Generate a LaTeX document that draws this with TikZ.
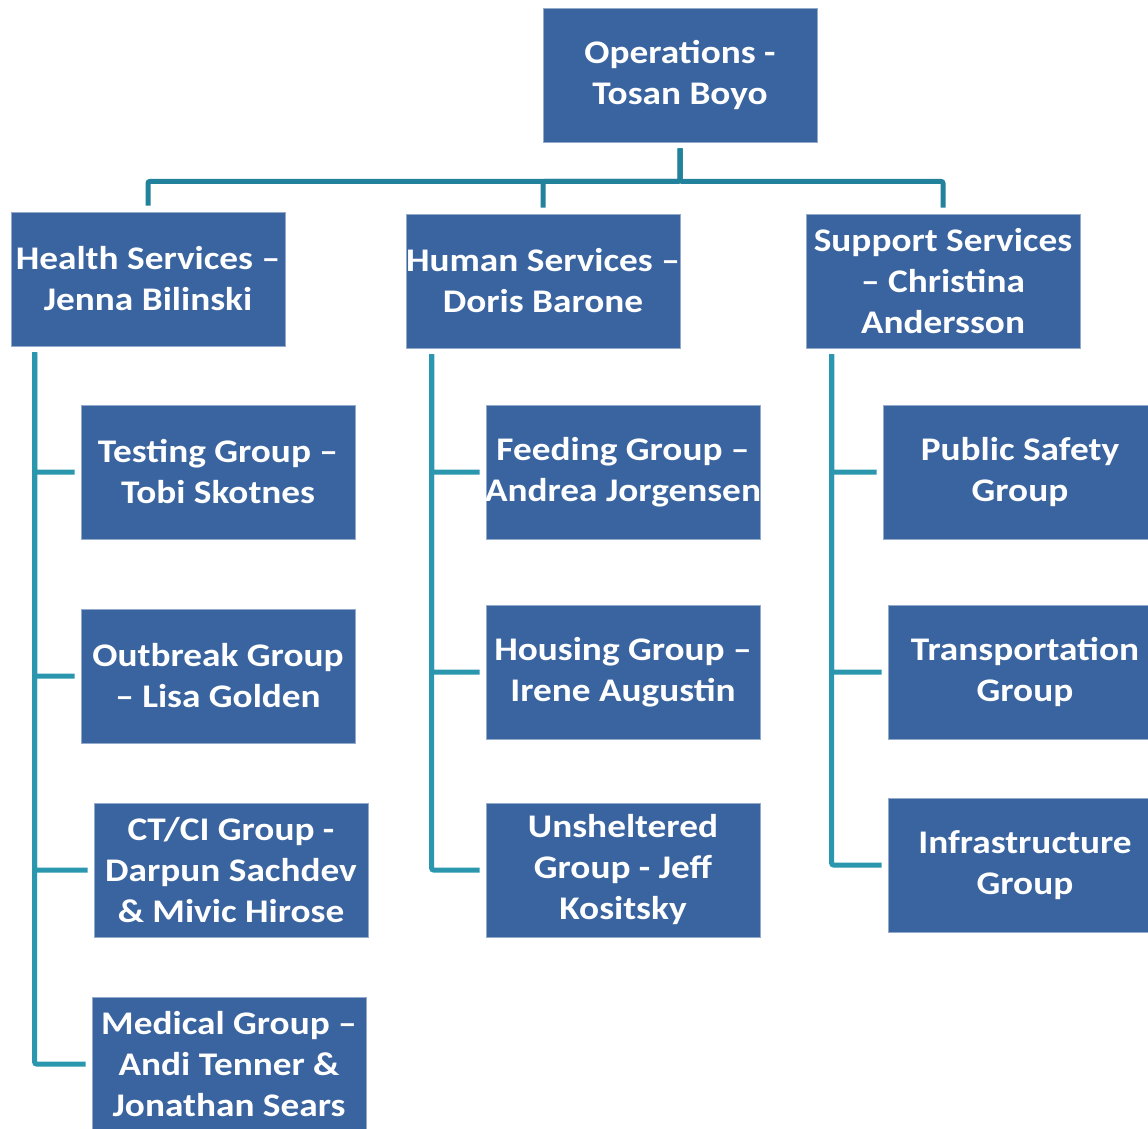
\documentclass[tikz,border=0pt]{standalone}
\usepackage{fontspec}
\setmainfont{Carlito}[FakeStretch=1.13]
\definecolor{boxblue}{HTML}{3A64A0}
\definecolor{tealdark}{HTML}{23829B}
\definecolor{teallight}{HTML}{2B97AE}
\newcommand{\snug}[1]{\makebox[268pt]{#1}}
\tikzset{
	unit/.style={fill=boxblue, draw=boxblue!55!white, line width=0.8pt, minimum width=274pt, minimum height=134pt, inner sep=0pt, align=center, text=white, font=\fontsize{33}{41}\selectfont\bfseries},
	toplink/.style={draw=tealdark, line width=5pt, shorten <=6pt, shorten >=6pt, rounded corners=2pt},
	sidelink/.style={draw=teallight, line width=5pt, shorten >=6pt, rounded corners=2pt}
}
\begin{document}
\begin{tikzpicture}[x=1pt, y=-1pt]
		\useasboundingbox ( 0, 0 ) rectangle ( 1148, 1128 );
		\clip ( 0, 0 ) rectangle ( 1148, 1128 );
		\fill [white] ( 0, 0 ) rectangle ( 1148, 1128 );

		% head
		\node [unit] (ops) at ( 680, 75 ) {Operations -\\Tosan Boyo};

		% branches
		\node [unit] (health)  at ( 148, 279 ) {\snug{Health Services –}\\Jenna Bilinski};
		\node [unit] (human)   at ( 543, 281 ) {\snug{Human Services –}\\Doris Barone};
		\node [unit] (support) at ( 943, 281 ) {Support Services\\– Christina\\Andersson};

		% health groups
		\node [unit] (testing)  at ( 218, 472 )  {Testing Group –\\Tobi Skotnes};
		\node [unit] (outbreak) at ( 218, 676 )  {Outbreak Group\\– Lisa Golden};
		\node [unit] (ctci)     at ( 231, 870 )  {CT/CI Group -\\Darpun Sachdev\\\& Mivic Hirose};
		\node [unit] (medical)  at ( 229, 1064 ) {Medical Group –\\Andi Tenner \&\\Jonathan Sears};

		% human groups
		\node [unit] (feeding)     at ( 623, 472 ) {Feeding Group –\\\snug{Andrea Jorgensen}};
		\node [unit] (housing)     at ( 623, 672 ) {Housing Group –\\Irene Augustin};
		\node [unit] (unsheltered) at ( 623, 870 ) {Unsheltered\\Group - Jeff\\Kositsky};

		% support groups
		\node [unit] (safety)    at ( 1020, 472 ) {Public Safety\\Group};
		\node [unit] (transport) at ( 1025, 672 ) {\snug{Transportation}\\Group};
		\node [unit] (infra)     at ( 1025, 865 ) {Infrastructure\\Group};

		% head -> branches
		\draw [toplink] (ops.south) -- ++( 0, 39 ) -| (health.north);
		\draw [toplink] (ops.south) -- ++( 0, 39 ) -| (human.north);
		\draw [toplink] (ops.south) -- ++( 0, 39 ) -| (support.north);

		% health -> groups
		\draw [sidelink] ([xshift=24pt, yshift=-6pt]health.south west) |- (testing.west);
		\draw [sidelink] ([xshift=24pt, yshift=-6pt]health.south west) |- (outbreak.west);
		\draw [sidelink] ([xshift=24pt, yshift=-6pt]health.south west) |- (ctci.west);
		\draw [sidelink] ([xshift=24pt, yshift=-6pt]health.south west) |- (medical.west);

		% human -> groups
		\draw [sidelink] ([xshift=26pt, yshift=-6pt]human.south west) |- (feeding.west);
		\draw [sidelink] ([xshift=26pt, yshift=-6pt]human.south west) |- (housing.west);
		\draw [sidelink] ([xshift=26pt, yshift=-6pt]human.south west) |- (unsheltered.west);

		% support -> groups
		\draw [sidelink] ([xshift=26pt, yshift=-6pt]support.south west) |- (safety.west);
		\draw [sidelink] ([xshift=26pt, yshift=-6pt]support.south west) |- (transport.west);
		\draw [sidelink] ([xshift=26pt, yshift=-6pt]support.south west) |- (infra.west);
	\end{tikzpicture}
\end{document}
